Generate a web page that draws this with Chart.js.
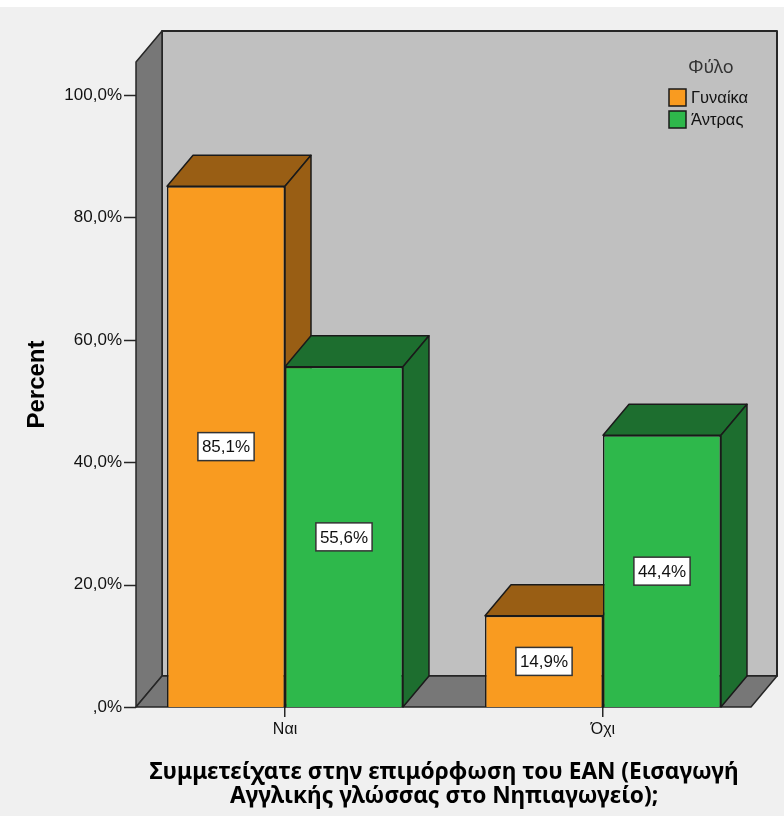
<!DOCTYPE html>
<html>
<head>
<meta charset="utf-8">
<script src="https://cdn.jsdelivr.net/npm/chart.js@4"></script>
<style>
  html, body { margin: 0; padding: 0; background: #F0F0F0; }
  #wrap { width: 784px; height: 816px; }
  canvas { display: block; }
</style>
</head>
<body>
<div id="wrap"><canvas id="c"></canvas></div>
<script>
// Participation in the EAN training, by gender (column percentages)
const categories = ['Ναι', 'Όχι'];
const seriesNames = ['Γυναίκα', 'Άντρας'];
const womenPct = [85.1, 14.9];
const menPct = [55.6, 44.4];
const yTickValues = [0, 20, 40, 60, 80, 100];
const yAxisTitle = 'Percent';
const xAxisTitle = ['Συμμετείχατε στην επιμόρφωση του ΕΑΝ (Εισαγωγή', 'Αγγλικής γλώσσας στο Νηπιαγωγείο);'];
const legendTitle = 'Φύλο';

const FONT = '"Liberation Sans", Arial, sans-serif';
const TITLE_FONT = '"Noto Sans", "DejaVu Sans", sans-serif';
const FRONT = ['#F99B20', '#2EB84B'];
const SHADE = ['#995E14', '#1D6E2F'];
const WALL_TOP = 105.4;   // value height of the walls
const DX = 26, DY = 31;   // depth offset of the 3D frame

function pct(v) {
  const s = v.toFixed(1).replace('.', ',');
  return (v === 0 ? ',0' : s) + '%';
}

function poly(ctx, pts, fill, stroke, lw) {
  ctx.beginPath();
  ctx.moveTo(pts[0][0], pts[0][1]);
  for (let i = 1; i < pts.length; i++) ctx.lineTo(pts[i][0], pts[i][1]);
  ctx.closePath();
  ctx.fillStyle = fill;
  ctx.fill();
  if (stroke) {
    ctx.lineWidth = lw || 1.5;
    ctx.strokeStyle = stroke;
    ctx.lineJoin = 'round';
    ctx.stroke();
  }
}

const frame3d = {
  id: 'frame3d',
  beforeDraw(chart) {
    const ctx = chart.ctx;
    ctx.save();
    ctx.fillStyle = '#F0F0F0';
    ctx.fillRect(0, 0, chart.width, chart.height);
    ctx.fillStyle = '#FFFFFF';
    ctx.fillRect(0, 0, chart.width, 7);
    ctx.restore();
  },
  beforeDatasetsDraw(chart) {
    const ctx = chart.ctx;
    const area = chart.chartArea;
    const ys = chart.scales.y;
    const x0 = area.left + 10, x1 = area.right - 11;
    const yb = ys.getPixelForValue(0), yt = ys.getPixelForValue(WALL_TOP);
    ctx.save();
    // back wall
    poly(ctx, [[x0 + DX, yt - DY], [x1 + DX, yt - DY], [x1 + DX, yb - DY], [x0 + DX, yb - DY]], '#C0C0C0', '#262626', 2);
    // left wall
    poly(ctx, [[x0, yt], [x0 + DX, yt - DY], [x0 + DX, yb - DY], [x0, yb]], '#777777', '#262626', 1.5);
    // floor
    poly(ctx, [[x0, yb], [x0 + DX, yb - DY], [x1 + DX, yb - DY], [x1, yb]], '#777777', '#262626', 1.5);

    // depth faces of the bars, drawn left to right
    const boxes = [];
    chart.data.datasets.forEach((ds, i) => {
      chart.getDatasetMeta(i).data.forEach(el => {
        boxes.push({ l: el.x - el.width / 2, r: el.x + el.width / 2, y: el.y, b: el.base, i });
      });
    });
    boxes.sort((a, b) => a.l - b.l);
    boxes.forEach(bx => {
      poly(ctx, [[bx.l, bx.y], [bx.r, bx.y], [bx.r + DX, bx.y - DY], [bx.l + DX, bx.y - DY]], SHADE[bx.i], '#1a1a1a', 1.5);
      poly(ctx, [[bx.r, bx.y], [bx.r + DX, bx.y - DY], [bx.r + DX, bx.b - DY], [bx.r, bx.b]], SHADE[bx.i], '#1a1a1a', 1.5);
    });
    ctx.restore();
  },
  afterDatasetsDraw(chart) {
    const ctx = chart.ctx;
    const area = chart.chartArea;
    const ys = chart.scales.y;
    const x0 = area.left + 10;
    ctx.save();

    // y tick marks on the front edge of the left wall
    ctx.strokeStyle = '#262626';
    ctx.lineWidth = 1.5;
    yTickValues.forEach(v => {
      const py = Math.round(ys.getPixelForValue(v)) + 0.5;
      ctx.beginPath();
      ctx.moveTo(x0 - 12, py);
      ctx.lineTo(x0, py);
      ctx.stroke();
    });

    // value labels in the middle of each bar
    ctx.font = '17px ' + FONT;
    ctx.textAlign = 'center';
    ctx.textBaseline = 'middle';
    chart.data.datasets.forEach((ds, i) => {
      chart.getDatasetMeta(i).data.forEach((el, j) => {
        const txt = pct(ds.data[j]);
        const w = ctx.measureText(txt).width + 8;
        const h = 28;
        const cx = el.x, cy = (el.y + el.base) / 2;
        ctx.fillStyle = '#FFFFFF';
        ctx.fillRect(cx - w / 2, cy - h / 2, w, h);
        ctx.strokeStyle = '#333333';
        ctx.lineWidth = 1.5;
        ctx.strokeRect(cx - w / 2, cy - h / 2, w, h);
        ctx.fillStyle = '#111111';
        ctx.fillText(txt, cx, cy + 1);
      });
    });

    // legend
    ctx.textAlign = 'center';
    ctx.font = '18px ' + TITLE_FONT;
    ctx.fillStyle = '#333333';
    ctx.fillText(legendTitle, 711, 68);
    ctx.textAlign = 'left';
    ctx.font = '16.5px ' + FONT;
    chart.data.datasets.forEach((ds, i) => {
      const top = 89 + i * 22;
      ctx.fillStyle = ds.backgroundColor;
      ctx.fillRect(669, top, 17, 17);
      ctx.strokeStyle = '#1a1a1a';
      ctx.lineWidth = 1.5;
      ctx.strokeRect(669, top, 17, 17);
      ctx.fillStyle = '#111111';
      ctx.fillText(ds.label, 691, top + 9);
    });
    ctx.restore();
  }
};

new Chart(document.getElementById('c'), {
  type: 'bar',
  data: {
    labels: categories,
    datasets: [
      { label: seriesNames[0], data: womenPct, backgroundColor: FRONT[0], borderColor: '#1a1a1a', borderWidth: 1.5 },
      { label: seriesNames[1], data: menPct, backgroundColor: FRONT[1], borderColor: '#1a1a1a', borderWidth: 1.5 }
    ]
  },
  options: {
    responsive: true,
    maintainAspectRatio: false,
    animation: false,
    categoryPercentage: 0.742,
    barPercentage: 1,
    layout: { padding: { top: 62, right: 22, left: 0, bottom: 0 } },
    plugins: { legend: { display: false }, tooltip: { enabled: false } },
    scales: {
      x: {
        type: 'category',
        offset: true,
        grid: { display: true, drawOnChartArea: false, drawTicks: true, tickLength: 10, offset: false, color: '#262626', lineWidth: 1.5 },
        border: { display: false },
        ticks: { font: { family: FONT, size: 16 }, color: '#111111', padding: 3 },
        title: { display: true, text: xAxisTitle, color: '#000000', font: { family: TITLE_FONT, size: 22.7, weight: 'bold', lineHeight: 1.1 }, padding: { top: 0, bottom: 6.5 } },
        afterFit(s) { s.height = 109; }
      },
      y: {
        min: 0,
        max: WALL_TOP,
        afterBuildTicks(s) { s.ticks = yTickValues.map(v => ({ value: v })); },
        grid: { display: false, drawTicks: false },
        border: { display: false },
        ticks: { padding: 4, font: { family: FONT, size: 17 }, color: '#111111', callback: v => pct(v) },
        title: { display: true, text: yAxisTitle, color: '#000000', font: { family: FONT, size: 24, weight: 'bold' }, padding: { top: 23, bottom: 0 } },
        afterFit(s) { s.width = 126; }
      }
    }
  },
  plugins: [frame3d]
});
</script>
</body>
</html>
